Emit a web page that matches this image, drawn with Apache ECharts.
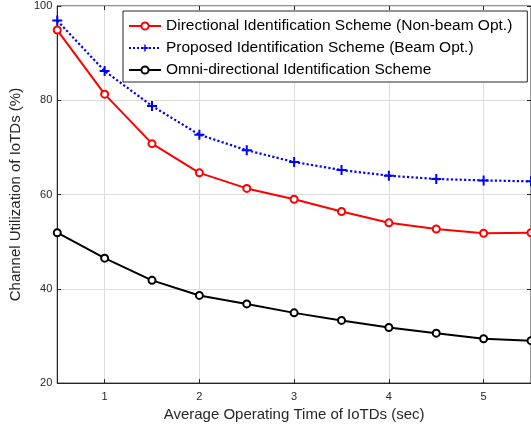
<!DOCTYPE html>
<html>
<head>
<meta charset="utf-8">
<script src="https://cdn.jsdelivr.net/npm/echarts@6/dist/echarts.min.js"></script>
<style>
  html, body { margin: 0; padding: 0; background: #fff; }
  #chart { width: 531px; height: 427px; }
</style>
</head>
<body>
<div id="chart"></div>
<script>
// data
const xTimes = [0.5, 1, 1.5, 2, 2.5, 3, 3.5, 4, 4.5, 5, 5.5]
const directional = [94.9, 81.3, 70.8, 64.6, 61.3, 59.0, 56.4, 54.0, 52.7, 51.8, 51.9]
const proposed = [96.9, 86.2, 78.8, 72.7, 69.4, 66.9, 65.2, 64.0, 63.3, 63.0, 62.8]
const omni = [51.9, 46.5, 41.8, 38.6, 36.8, 34.9, 33.3, 31.8, 30.6, 29.4, 29.0]
const xTicks = [1, 2, 3, 4, 5]

const names = [
  'Directional Identification Scheme (Non-beam Opt.)',
  'Proposed Identification Scheme (Beam Opt.)',
  'Omni-directional Identification Scheme',
]

const FONT = 'Liberation Sans, Arial, sans-serif'
const AXIS = '#262626'
const PLUS = 'path://M4,0H6V4H10V6H6V10H4V6H0V4H4Z'

function pairs(ys) {
  return xTimes.map((x, i) => [x, ys[i]])
}

const chart = echarts.init(document.getElementById('chart'))

chart.setOption({
  animation: false,
  textStyle: { fontFamily: FONT },
  grid: {
    left: 53, top: 6, width: 480, height: 378,
    show: true, borderColor: AXIS, borderWidth: 1, backgroundColor: 'transparent',
  },
  legend: {
    orient: 'vertical',
    left: 123, top: 11,
    padding: [7, 15, 4, 5],
    itemWidth: 32, itemHeight: 9, itemGap: 6,
    borderColor: AXIS, borderWidth: 1,
    backgroundColor: '#fff',
    textStyle: { fontSize: 15.5, color: '#000', fontFamily: FONT },
    data: names,
  },
  xAxis: [{
    type: 'value', min: 0.5, max: 5.5,
    name: 'Average Operating Time of IoTDs (sec)',
    nameLocation: 'middle', nameGap: 18,
    nameTextStyle: { fontSize: 15, color: AXIS },
    axisLine: { lineStyle: { color: AXIS } },
    axisTick: { inside: true, length: 4, customValues: xTicks, lineStyle: { color: AXIS } },
    axisLabel: { customValues: xTicks, fontSize: 11, color: AXIS, margin: 8 },
    splitLine: { show: true, lineStyle: { color: '#dcdcdc' } },
  }, {
    type: 'value', min: 0.5, max: 5.5, position: 'top',
    axisLine: { show: false },
    axisTick: { inside: true, length: 4, customValues: xTicks, lineStyle: { color: AXIS } },
    axisLabel: { show: false },
    splitLine: { show: false },
  }],
  yAxis: [{
    type: 'value', min: 20, max: 100, interval: 20,
    name: 'Channel Utilization of IoTDs (%)',
    nameLocation: 'middle', nameGap: 26,
    nameTextStyle: { fontSize: 15, color: AXIS },
    axisLine: { show: true, lineStyle: { color: AXIS } },
    axisTick: { show: true, inside: true, length: 4, lineStyle: { color: AXIS } },
    axisLabel: { fontSize: 11, color: AXIS, margin: 5 },
    splitLine: { show: true, lineStyle: { color: '#dcdcdc' } },
  }, {
    type: 'value', min: 20, max: 100, interval: 20, position: 'right',
    axisLine: { show: false },
    axisTick: { show: true, inside: true, length: 4, lineStyle: { color: AXIS } },
    axisLabel: { show: false },
    splitLine: { show: false },
  }],
  series: [{
    name: names[0], type: 'line', data: pairs(directional),
    symbol: 'emptyCircle', symbolSize: 7,
    lineStyle: { color: '#ff0000', width: 2 },
    itemStyle: { color: '#ff0000', borderWidth: 1.8 },
  }, {
    name: names[1], type: 'line', data: pairs(proposed),
    symbol: PLUS, symbolSize: 10,
    lineStyle: { color: '#0000ff', width: 2.2, type: 'dotted' },
    itemStyle: { color: '#0000ff' },
  }, {
    name: names[2], type: 'line', data: pairs(omni),
    symbol: 'emptyCircle', symbolSize: 7,
    lineStyle: { color: '#000', width: 2 },
    itemStyle: { color: '#000', borderWidth: 1.8 },
  }],
})
</script>
</body>
</html>
